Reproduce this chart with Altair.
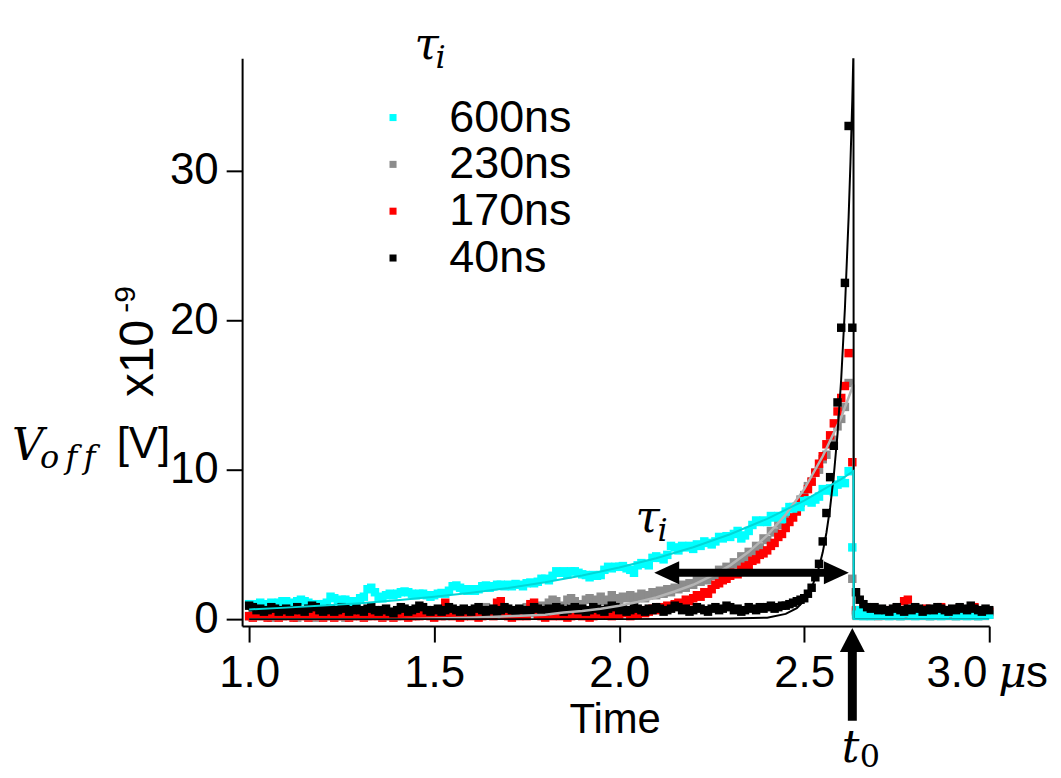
import altair as alt
import pandas as pd

# ---------------- data ----------------
T_START, T_STEP, N_SAMPLES = 1.0, 0.01, 201
t_grid = [round(T_START + T_STEP * i, 2) for i in range(N_SAMPLES)]

series_names = ["600ns", "230ns", "170ns", "40ns"]
series_colors = ["#00FFFF", "#8C8C8C", "#FF0000", "#000000"]

v_600ns = [
    1.0, 0.9, 1.0, 1.1, 1.0, 0.9, 1.1, 1.0, 1.1, 1.2,
    1.2, 1.1, 1.0, 1.2, 1.3, 1.2, 1.1, 1.0, 0.9, 1.0,
    1.0, 1.1, 1.5, 1.4, 1.2, 1.3, 1.3, 1.2, 1.1, 1.2,
    1.4, 1.5, 2.0, 2.1, 1.8, 1.5, 1.4, 1.6, 1.7, 1.6,
    1.7, 1.8, 1.85, 1.8, 1.7, 1.6, 1.7, 1.7, 1.6, 1.5,
    1.6, 1.7, 1.75, 1.7, 1.9, 2.2, 2.25, 2.1, 2.0, 1.9,
    2.0, 1.9, 2.0, 2.2, 2.25, 2.1, 2.2, 2.3, 2.3, 2.2,
    2.3, 2.2, 2.35, 2.3, 2.2, 2.4, 2.45, 2.4, 2.5, 2.7,
    2.7, 2.6, 2.9, 3.2, 3.1, 3.2, 3.0, 3.2, 3.2, 3.1,
    3.0, 2.95, 2.8, 2.95, 2.9, 2.95, 3.3, 3.5, 3.4, 3.5,
    3.5, 3.55, 3.4, 3.3, 3.1, 3.6, 3.75, 3.7, 3.6, 4.1,
    4.2, 4.1, 4.0, 4.3, 4.9, 4.8, 4.6, 4.9, 4.8, 4.9,
    4.7, 5.0, 4.9, 5.2, 5.1, 5.0, 5.2, 5.5, 5.4, 5.55,
    5.5, 5.7, 5.9, 5.4, 5.6, 5.9, 6.3, 6.6, 6.5, 6.6,
    6.5, 6.9, 6.8, 6.9, 6.7, 7.2, 7.5, 7.4, 7.55, 7.5,
    7.9, 7.95, 7.8, 8.0, 8.2, 8.7, 8.6, 8.75, 8.5, 9.0,
    9.3, 9.1, 9.9,
    4.8,
    0.3, 0.6, 0.2, 0.4, 0.2, 0.5, 0.3,
    0.4, 0.3, 0.2, 0.5, 0.3, 0.2, 0.4, 0.6, 0.3, 0.2,
    0.4, 0.3, 0.5, 0.2, 0.3, 0.4, 0.2, 0.3, 0.5, 0.4,
    0.2, 0.3, 0.4, 0.2, 0.5, 0.3, 0.2, 0.4, 0.3, 0.3,
]

v_230ns = [
    0.2, 0.3, 0.5, 0.2, 0.4, 0.3, 0.1, 0.3, 0.4, 0.2,
    0.3, 0.5, 0.2, 0.1, 0.3, 0.4, 0.2, 0.3, 0.1, 0.4,
    0.3, 0.2, 0.4, 0.5, 0.2, 0.3, 0.1, 0.3, 0.4, 0.2,
    0.3, 0.4, 0.2, 0.3, 0.5, 0.6, 0.3, 0.2, 0.4, 0.3,
    0.2, 0.4, 0.3, 0.5, 0.3, 0.2, 0.4, 0.3, 0.6, 0.4,
    0.3, 0.5, 0.4, 0.2, 0.3, 0.5, 0.4, 0.6, 0.3, 0.4,
    0.5, 0.3, 0.4, 0.6, 0.8, 0.5, 0.4, 0.3, 0.5, 0.7,
    0.4, 0.6, 0.5, 0.3, 0.5, 0.8, 0.6, 0.4, 0.6, 0.9,
    0.7, 1.1, 1.3, 1.2, 0.9, 0.8, 1.3, 1.4, 1.2, 1.0,
    0.9, 1.3, 1.4, 1.1, 1.3, 1.5, 1.2, 1.3, 1.6, 1.4,
    1.2, 1.5, 1.4, 1.6, 1.3, 1.5, 1.7, 1.4, 1.6, 1.8,
    1.6, 1.9, 1.7, 2.0, 1.8, 2.1, 2.0, 2.3, 2.1, 2.4,
    2.3, 2.6, 2.5, 2.8, 2.6, 3.0, 2.9, 3.3, 3.1, 3.5,
    3.4, 3.8, 3.7, 4.2, 4.0, 4.5, 4.4, 4.9, 4.8, 5.4,
    5.3, 5.9, 5.8, 6.4, 6.3, 6.9, 6.8, 7.5, 7.3, 8.0,
    8.3, 8.9, 9.2, 9.8, 10.0, 10.7, 11.0, 11.8, 12.0, 12.9,
    13.4, 14.2, 15.8,
    2.7,
    0.5, 0.3, 0.6, 0.4, 0.5, 0.3, 0.2,
    0.4, 0.5, 0.3, 0.6, 0.4, 0.2, 0.5, 0.3, 0.4, 0.6,
    0.3, 0.5, 0.4, 0.2, 0.3, 0.5, 0.4, 0.6, 0.3, 0.4,
    0.2, 0.5, 0.3, 0.4, 0.6, 0.3, 0.2, 0.4, 0.5, 0.3,
]

v_170ns = [
    0.2, 0.1, 0.3, 0.2, 0.4, 0.1, 0.2, 0.3, 0.1, 0.2,
    0.3, 0.2, 0.1, 0.4, 0.2, 0.3, 0.1, 0.2, 0.5, 0.2,
    0.1, 0.3, 0.2, 0.1, 0.4, 0.2, 0.3, 0.1, 0.2, 0.3,
    0.2, 0.1, 0.3, 0.2, 0.4, 0.2, 0.1, 0.3, 0.2, 0.1,
    0.3, 0.2, 0.4, 0.1, 0.2, 0.3, 0.2, 0.5, 0.3, 0.2,
    0.1, 0.3, 0.2, 1.1, 0.4, 0.2, 0.3, 0.1, 0.2, 0.4,
    0.2, 0.3, 0.1, 0.2, 0.4, 0.3, 0.2, 1.1, 1.2, 0.3,
    0.2, 0.1, 0.3, 0.2, 0.4, 0.2, 1.0, 1.1, 0.3, 0.2,
    0.1, 0.3, 0.2, 0.4, 0.2, 0.3, 0.1, 0.2, 0.4, 0.3,
    0.2, 0.3, 0.1, 0.2, 0.4, 0.3, 0.5, 0.3, 0.2, 0.4,
    0.3, 0.5, 0.4, 0.2, 0.5, 0.3, 0.6, 0.4, 0.5, 0.7,
    0.6, 0.8, 0.7, 0.9, 0.8, 1.0, 1.1, 1.0, 1.3, 1.2,
    1.4, 1.6, 1.5, 1.8, 1.7, 2.0, 2.3, 2.4, 2.6, 2.7,
    2.9, 3.1, 3.0, 3.3, 3.5, 3.6, 3.9, 4.0, 4.3, 4.4,
    4.6, 4.9, 5.1, 5.5, 5.7, 6.1, 6.5, 6.8, 7.2, 7.8,
    8.1, 8.7, 9.2, 9.8, 10.4, 10.9, 11.7, 12.3, 13.1, 13.9,
    14.8, 15.6, 17.8,
    10.5,
    0.6, 0.4, 0.7, 0.5, 0.3, 0.6, 0.4,
    0.5, 0.3, 0.6, 0.4, 0.7, 0.5, 1.2, 1.3, 0.4, 0.6,
    0.5, 0.3, 0.7, 0.4, 0.6, 0.5, 0.8, 0.4, 0.6, 0.5,
    0.3, 0.7, 0.5, 0.4, 0.6, 0.8, 0.5, 0.4, 0.6, 0.5,
]

v_40ns = [
    0.9, 0.8, 0.6, 0.7, 0.5, 0.6, 0.8, 0.7, 0.5, 0.6,
    0.7, 0.5, 0.6, 0.8, 0.6, 0.5, 0.7, 0.9, 0.8, 0.6,
    0.5, 0.6, 0.7, 0.5, 0.6, 0.8, 0.7, 0.5, 0.6, 0.7,
    0.6, 0.5, 0.7, 0.8, 0.6, 0.5, 0.6, 0.7, 0.5, 0.4,
    0.6, 0.8, 0.7, 0.5, 0.6, 0.7, 0.9, 0.8, 0.6, 0.5,
    0.6, 0.7, 0.5, 0.6, 0.8, 0.7, 0.6, 0.5, 0.7, 0.6,
    0.5, 0.7, 0.8, 0.6, 0.5, 0.6, 0.7, 0.5, 0.6, 0.8,
    0.7, 0.6, 0.5, 0.7, 0.6, 0.5, 0.6, 0.8, 0.7, 0.6,
    0.5, 0.7, 0.6, 0.8, 0.7, 0.5, 0.6, 0.7, 0.8, 0.6,
    0.7, 0.5, 0.6, 0.8, 0.7, 0.6, 0.5, 0.7, 0.9, 0.8,
    0.6, 0.7, 0.5, 0.6, 0.8, 0.7, 0.6, 0.5, 0.7, 0.6,
    0.8, 0.7, 0.5, 0.6, 0.7, 0.9, 0.8, 0.6, 0.7, 0.5,
    0.6, 0.8, 0.7, 0.6, 0.5, 0.7, 0.8, 0.6, 0.7, 0.9,
    0.8, 0.6, 0.7, 0.5, 0.6, 0.8, 0.7, 0.6, 0.8, 0.7,
    0.8, 0.9, 0.7, 0.8, 0.9, 0.9, 1.0, 1.1, 1.2, 1.3,
    1.4, 1.7, 2.1, 2.8, 3.7, 5.2, 7.1, 9.5, 11.6, 14.5,
    19.5, 22.5, 33.0,
    19.5,
    1.8, 1.3, 1.0, 0.8, 0.7, 0.8, 0.6,
    0.7, 0.6, 0.5, 0.7, 0.8, 0.6, 0.5, 0.7, 0.6, 0.8,
    0.7, 0.5, 0.6, 0.7, 0.6, 0.8, 0.7, 0.6, 0.5, 0.7,
    0.6, 0.8, 0.7, 0.6, 0.9, 0.7, 0.6, 0.5, 0.7, 0.6,
]

# exponential fits
fit_600_t = [1.0, 1.1, 1.2, 1.3, 1.4, 1.5, 1.6, 1.7, 1.8, 1.9, 2.0, 2.1, 2.2,
             2.3, 2.4, 2.5, 2.6, 2.633, 2.634, 3.0]
fit_600_v = [0.65, 0.77, 0.91, 1.07, 1.27, 1.50, 1.77, 2.09, 2.47, 2.92, 3.45,
             4.07, 4.81, 5.68, 6.71, 7.93, 9.37, 9.9, 0.0, 0.0]
fit_230_t = [1.0, 1.2, 1.4, 1.6, 1.7, 1.8, 1.85, 1.9, 1.95, 2.0, 2.05, 2.1, 2.15,
             2.2, 2.25, 2.3, 2.35, 2.4, 2.45, 2.5, 2.55, 2.6, 2.633, 2.634, 3.0]
fit_230_v = [0.0, 0.0, 0.0, 0.1, 0.2, 0.3, 0.45, 0.55, 0.7, 0.9, 1.15, 1.45, 1.85,
             2.3, 2.9, 3.6, 4.5, 5.6, 7.0, 8.7, 10.9, 13.5, 15.7, 0.0, 0.0]
fit_40_t = [1.0, 2.0, 2.3, 2.4, 2.45, 2.48, 2.5, 2.52, 2.54, 2.55, 2.56, 2.57,
            2.58, 2.59, 2.6, 2.61, 2.62, 2.625, 2.63, 2.633, 2.634, 3.0]
fit_40_v = [0.0, 0.0, 0.05, 0.1, 0.35, 0.74, 1.24, 2.07, 3.47, 4.47, 5.78, 7.46,
            9.63, 12.4, 16.1, 20.8, 26.9, 30.6, 34.8, 38.0, 0.0, 0.0]

x_ticks = [1.0, 1.5, 2.0, 2.5, 3.0]
y_ticks = [0, 10, 20, 30]

# ---------------- tables ----------------
draw_order = [("230ns", v_230ns), ("170ns", v_170ns), ("600ns", v_600ns), ("40ns", v_40ns)]
rows = []
for name, vals in draw_order:
    for t, v in zip(t_grid, vals):
        rows.append({"t": t, "v": v, "series": name})
points_df = pd.DataFrame(rows)

SANS = "Liberation Sans"
MATH = "DejaVu Serif"

xaxis = alt.Axis(
    values=x_ticks,
    labelExpr="datum.value == 3 ? '' : format(datum.value, '.1f')",
    tickSize=16, tickWidth=2, tickColor="black",
    domainWidth=2, domainColor="black",
    labelFont=SANS, labelFontSize=44, labelColor="black", labelPadding=10,
    labelFlush=False, labelOverlap=False,
    title="Time", titleFont=SANS, titleFontSize=42, titleFontWeight="normal",
    titleColor="black", titleBaseline="alphabetic", titleY=107, titleX=374,
    grid=False,
)
yaxis = alt.Axis(
    values=y_ticks, format="d",
    tickSize=16, tickWidth=2, tickColor="black",
    domainWidth=2, domainColor="black",
    labelFont=SANS, labelFontSize=44, labelColor="black", labelPadding=8,
    title=None, grid=False,
)
xs = alt.Scale(domain=[0.981, 3.0], nice=False, zero=False)
ys = alt.Scale(domain=[-0.467, 37.53], nice=False, zero=False)
X = alt.X("t:Q", scale=xs, axis=xaxis)
Y = alt.Y("v:Q", scale=ys, axis=yaxis)

points = alt.Chart(points_df).mark_square(size=72, opacity=1, strokeWidth=0).encode(
    x=X, y=Y,
    color=alt.Color(
        "series:N",
        scale=alt.Scale(domain=series_names, range=series_colors),
        legend=alt.Legend(
            orient="none", legendX=129, legendY=37, title=None,
            symbolType="square", symbolSize=50, symbolStrokeWidth=0,
            symbolOpacity=1,
            labelFont=SANS, labelFontSize=45, labelColor="black",
            labelOffset=34, rowPadding=1, padding=0,
        ),
    ),
)


def fit_layer(ts, vs, color, width):
    df = pd.DataFrame({"t": ts, "v": vs})
    return alt.Chart(df).mark_line(color=color, strokeWidth=width, clip=True).encode(x=X, y=Y)


fit_gray = fit_layer(fit_230_t, fit_230_v, "#B4B4B4", 2.5)
fit_black = fit_layer(fit_40_t, fit_40_v, "#000000", 2)
fit_cyan = fit_layer(fit_600_t, fit_600_v, "#00D8D8", 2)


def text_layer(items, **props):
    df = pd.DataFrame(items, columns=["t", "v", "s"])
    return alt.Chart(df).mark_text(color="black", align="left", baseline="alphabetic", **props).encode(
        x=X, y=Y, text="s:N")


math_big = text_layer([
    (0.3594, 10.667, "V"),
    (1.4468, 37.47, "τ"),
    (2.0444, 5.80, "τ"),
    (2.6016, -9.55, "t"),
    (3.0242, -4.533, "μ"),
], font=MATH, fontSize=44, fontStyle="italic")
math_sub = text_layer([
    (0.4347, 10.133, "o\u2009f\u2009f"),
    (1.5033, 36.87, "i"),
    (2.1036, 5.20, "i"),
], font=MATH, fontSize=32, fontStyle="italic")
math_sub0 = text_layer([
    (2.6501, -9.9, "0"),
], font=MATH, fontSize=32)
sans_text = text_layer([
    (0.6420, 10.8, "[V]"),
    (2.8304, -4.533, "3.0"),
    (3.0996, -4.533, "s"),
], font=SANS, fontSize=44)
rot_main = text_layer([
    (0.7389, 14.867, "x10"),
], font=SANS, fontSize=48, angle=270)
rot_sup = text_layer([
    (0.6904, 20.5, "-9"),
], font=SANS, fontSize=30, angle=270)

# arrows
tau_shaft = alt.Chart(pd.DataFrame({"t": [2.1284], "t2": [2.5868], "v": [3.1]})).mark_rule(
    color="black", strokeWidth=8).encode(x=X, x2="t2:Q", y=Y)
tau_heads_r = alt.Chart(pd.DataFrame({"t": [2.5868], "v": [3.1]})).mark_point(
    shape="M-1,-0.92L1,0L-1,0.92Z", size=625, filled=True, color="black", opacity=1,
    strokeWidth=0).encode(x=X, y=Y)
tau_heads_l = alt.Chart(pd.DataFrame({"t": [2.1284], "v": [3.1]})).mark_point(
    shape="M1,-0.92L-1,0L1,0.92Z", size=625, filled=True, color="black", opacity=1,
    strokeWidth=0).encode(x=X, y=Y)
t0_shaft = alt.Chart(pd.DataFrame({"t": [2.63], "v": [-2.2], "v2": [-6.8]})).mark_rule(
    color="black", strokeWidth=9).encode(x=X, y=Y, y2="v2:Q")
t0_head = alt.Chart(pd.DataFrame({"t": [2.63], "v": [-1.4]})).mark_point(
    shape="M0,-0.96L1,0.96L-1,0.96Z", size=625, filled=True, color="black", opacity=1,
    strokeWidth=0).encode(x=X, y=Y)

chart = alt.layer(
    points, fit_gray, fit_black, fit_cyan,
    tau_shaft, tau_heads_r, tau_heads_l, t0_shaft, t0_head,
    math_big, math_sub, math_sub0, sans_text, rot_main, rot_sup,
).properties(
    width=750, height=570,
    autosize=alt.AutoSizeParams(type="none"),
    padding={"left": 235, "top": 49, "right": 64, "bottom": 151},
).configure_view(stroke=None)

chart.save("out.html", embed_options={"renderer": "svg", "actions": False})
